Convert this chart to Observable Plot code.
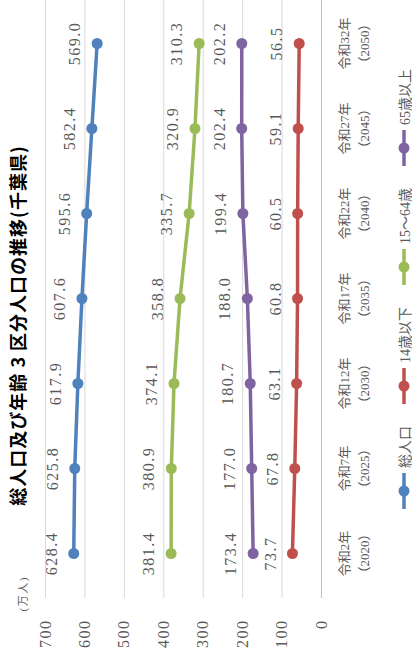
<!DOCTYPE html>
<html lang="ja">
<head>
<meta charset="utf-8">
<script src="https://cdn.jsdelivr.net/npm/d3@7"></script>
<script src="https://cdn.jsdelivr.net/npm/@observablehq/plot@0.6"></script>
<style>
  html, body { margin: 0; padding: 0; background: #fff; }
  body { width: 412px; height: 659px; overflow: hidden; position: relative; }
  /* the chart is laid out landscape and turned a quarter turn counter-clockwise */
  #wrap {
    position: absolute; left: 0; top: 0;
    width: 659px; height: 412px;
    transform-origin: 0 0;
    transform: translate(0px, 659px) rotate(-90deg);
    font-family: "Liberation Serif", "Noto Sans CJK JP", serif;
  }
  #title {
    position: absolute; left: 4px; top: 6px; width: 659px;
    text-align: center; font: bold 18px/22px "Noto Sans CJK JP", sans-serif;
    letter-spacing: 1px; color: #000; white-space: nowrap;
  }
  #chart { position: absolute; left: 0; top: 0; }
  #legend {
    position: absolute; left: 61px; top: 394px; width: 616px;
    display: flex; justify-content: center; align-items: center; gap: 20px;
    font-size: 14px; color: #595959; white-space: nowrap;
  }
  #legend .item { display: flex; align-items: center; gap: 3px; }
  #legend svg { display: block; }
</style>
</head>
<body>
<div id="wrap">
  <div id="title">総人口及び年齢 3 区分人口の推移(千葉県)</div>
  <div id="chart"></div>
  <div id="legend"></div>
</div>
<script>
// Population of Chiba prefecture by age group, in units of 10,000 people
const years = ["2020", "2025", "2030", "2035", "2040", "2045", "2050"];
const eraYears = ["令和2年", "令和7年", "令和12年", "令和17年", "令和22年", "令和27年", "令和32年"];
const seriesNames = ["総人口", "14歳以下", "15～64歳", "65歳以上"];
const seriesColors = ["#4F81BD", "#C0504D", "#9BBB59", "#8064A2"];
const totalPop = [628.4, 625.8, 617.9, 607.6, 595.6, 582.4, 569.0];
const age0to14 = [73.7, 67.8, 63.1, 60.8, 60.5, 59.1, 56.5];
const age15to64 = [381.4, 380.9, 374.1, 358.8, 335.7, 320.9, 310.3];
const age65plus = [173.4, 177.0, 180.7, 188.0, 199.4, 202.4, 202.2];
const yTicks = [0, 100, 200, 300, 400, 500, 600, 700];
const unitLabel = "(万人)";

const seriesValues = [totalPop, age0to14, age15to64, age65plus];
const rows = seriesNames.flatMap((name, si) =>
  seriesValues[si].map((value, i) => ({year: years[i], series: name, value}))
);

const serif = "'Liberation Serif', 'Noto Sans CJK JP', serif";

const chart = Plot.plot({
  width: 659,
  height: 385,
  marginTop: 45,
  marginBottom: 64,
  marginLeft: 61,
  marginRight: 0,
  style: {
    fontFamily: serif,
    color: "#595959",
    background: "transparent",
    overflow: "visible"
  },
  x: {type: "point", domain: years, padding: 0.5, label: null},
  y: {domain: [0, 700], label: null},
  color: {domain: seriesNames, range: seriesColors},
  marks: [
    Plot.gridY({ticks: yTicks.filter(t => t > 0), stroke: "#d9d9d9", strokeOpacity: 1}),
    Plot.ruleY([0], {stroke: "#bfbfbf"}),
    Plot.axisY({ticks: yTicks, tickSize: 0, tickPadding: 22, fontSize: 16, fontFamily: serif, fill: "#595959", label: null}),
    Plot.axisX({
      tickSize: 0, tickPadding: 13, fontSize: 13, lineHeight: 1.55, fontFamily: serif, fill: "#595959", label: null,
      tickFormat: d => `${eraYears[years.indexOf(d)]}\n（${d}）`
    }),
    Plot.line(rows, {x: "year", y: "value", z: "series", stroke: "series", strokeWidth: 3.5}),
    Plot.dot(rows, {x: "year", y: "value", fill: "series", r: 5.5}),
    Plot.text(rows, {x: "year", y: "value", text: d => d.value.toFixed(1), dy: -22, fontSize: 16, fontFamily: serif, fill: "#595959"}),
    Plot.text([unitLabel], {frameAnchor: "top-left", dx: -14, dy: -26, fontSize: 11, fontFamily: serif, fill: "#595959"})
  ]
});

// slightly widen the numeric labels
chart.querySelectorAll('g[aria-label="text"] text, g[aria-label="y-axis tick label"] text')
  .forEach(t => t.style.letterSpacing = "1.5px");

document.getElementById("chart").append(chart);

// legend: line-with-marker swatch followed by the series name
const legend = d3.select("#legend");
seriesNames.forEach((name, i) => {
  const item = legend.append("div").attr("class", "item");
  const sw = item.append("svg").attr("width", 40).attr("height", 14);
  sw.append("line").attr("x1", 2).attr("x2", 38).attr("y1", 7).attr("y2", 7)
    .attr("stroke", seriesColors[i]).attr("stroke-width", 3.5);
  sw.append("circle").attr("cx", 20).attr("cy", 7).attr("r", 5.5).attr("fill", seriesColors[i]);
  item.append("span").text(name);
});
</script>
</body>
</html>
